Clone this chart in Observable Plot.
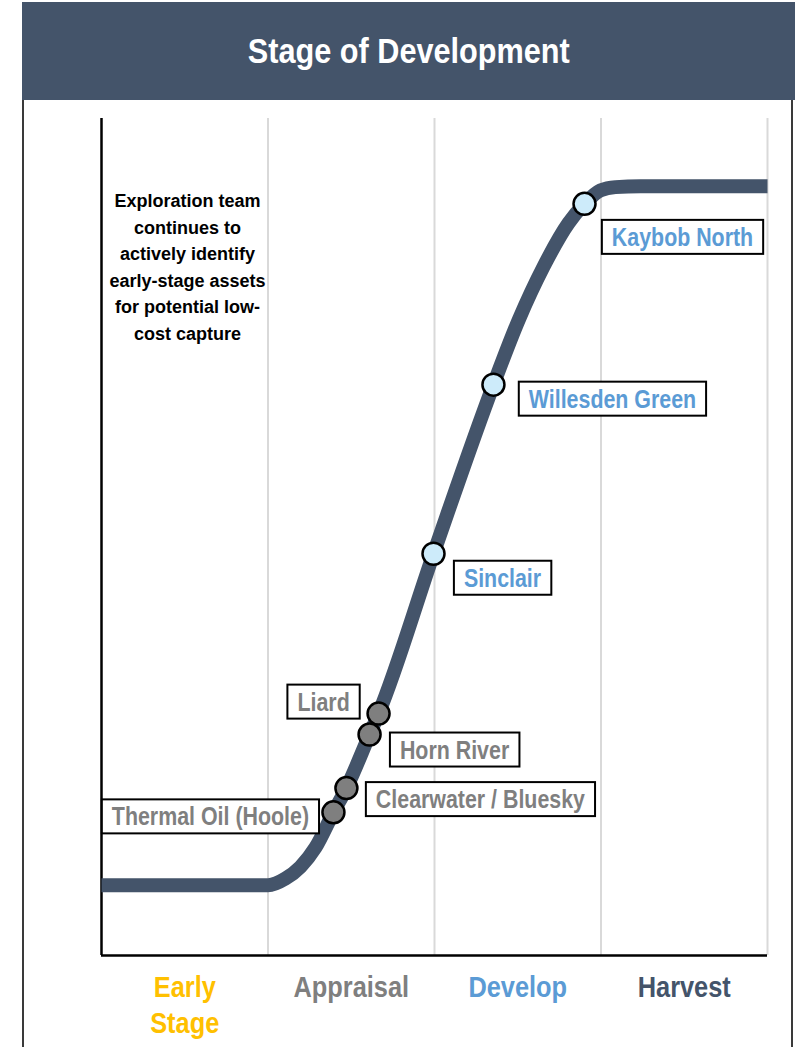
<!DOCTYPE html>
<html>
<head>
<meta charset="utf-8">
<script src="https://cdn.jsdelivr.net/npm/d3@7"></script>
<script src="https://cdn.jsdelivr.net/npm/@observablehq/plot@0.6"></script>
<style>
  html, body { margin: 0; padding: 0; background: #fff; }
  #page { position: relative; width: 795px; height: 1047px; overflow: hidden; font-family: "Liberation Sans", Arial, sans-serif; }
  #bar { position: absolute; left: 22px; top: 2px; width: 773px; height: 98px; background: #44546A; text-align: center; line-height: 98px; }
  #bar span { display: inline-block; color: #fff; font-weight: bold; font-size: 35px; transform: scaleX(0.876); }
  #frame { position: absolute; left: 22px; top: 100px; width: 767px; height: 947px; border-left: 2px solid #3a3a3a; border-right: 2px solid #3a3a3a; }
  #chart { position: absolute; left: 0; top: 100px; }
</style>
</head>
<body>
<div id="page">
  <div id="bar"><span>Stage of Development</span></div>
  <div id="frame"></div>
  <div id="chart"></div>
</div>
<script>
// ---- data ----
const stages = ["Early\nStage", "Appraisal", "Develop", "Harvest"];
const stageColors = ["#FFC000", "#7F7F7F", "#5B9BD5", "#44546A"];

const curveX = [0, 1.0, 1.105, 1.195, 1.285, 1.393, 1.471, 1.610, 1.664, 1.994, 2.354, 2.505, 2.655, 2.805, 2.901, 2.997, 3.087, 3.237, 4.0];
const curveY = [8.4, 8.4, 9.2, 10.6, 12.9, 17.1, 20.0, 26.4, 28.9, 48.0, 68.2, 75.9, 82.3, 87.5, 89.8, 91.4, 91.8, 91.9, 91.9];

const assetNames = ["Thermal Oil (Hoole)", "Clearwater / Bluesky", "Horn River", "Liard", "Sinclair", "Willesden Green", "Kaybob North"];
const assetX = [1.393, 1.471, 1.610, 1.664, 1.994, 2.354, 2.901];
const assetY = [17.1, 20.0, 26.4, 28.9, 48.0, 68.2, 89.8];
const assetStage = ["Appraisal", "Appraisal", "Appraisal", "Appraisal", "Develop", "Develop", "Develop"];

const noteText = "Exploration team\ncontinues to\nactively identify\nearly-stage assets\nfor potential low-\ncost capture";

// ---- layout / style ----
const labelOffsets = [[-123, 5], [134, 12], [85, 16], [-55, -11], [69, 25], [119, 15], [98, 34]];
const labelColor = {Appraisal: "#7F7F7F", Develop: "#5B9BD5"};
const dotColor = {Appraisal: "#7F7F7F", Develop: "#CDEBFA"};

const curve = curveX.map((x, i) => ({x, y: curveY[i]}));
const assets = assetNames.map((name, i) => ({name, x: assetX[i], y: assetY[i], stage: assetStage[i]}));

const svg = Plot.plot({
  width: 795,
  height: 947,
  marginLeft: 101,
  marginRight: 28,
  marginTop: 18,
  marginBottom: 92,
  x: {domain: [0, 4], axis: null},
  y: {domain: [0, 100], axis: null},
  color: {type: "identity"},
  style: {fontFamily: "'Liberation Sans', Arial, sans-serif", background: "transparent", overflow: "visible"},
  marks: [
    Plot.ruleX([1, 2, 3, 4], {stroke: "#D9D9D9", strokeWidth: 2}),
    Plot.ruleX([0], {stroke: "#000", strokeWidth: 2.5}),
    Plot.ruleY([0], {stroke: "#000", strokeWidth: 2.5}),
    Plot.line(curve, {x: "x", y: "y", curve: "monotone-x", stroke: "#44546A", strokeWidth: 14, strokeLinecap: "butt", strokeLinejoin: "round"}),
    Plot.dot(assets, {x: "x", y: "y", r: 11, fill: d => dotColor[d.stage], stroke: "#000", strokeWidth: 2.5}),
    ...assets.map((a, i) => Plot.text([a], {
      x: "x", y: "y", text: "name",
      dx: labelOffsets[i][0], dy: labelOffsets[i][1],
      textAnchor: "middle", lineAnchor: "middle",
      fontSize: 25, fontWeight: "bold",
      fill: labelColor[a.stage]
    })),
    Plot.text([noteText], {
      text: d => d, frameAnchor: "top-left", dx: 86, dy: 146.5,
      textAnchor: "middle", lineAnchor: "middle", lineHeight: 1.47,
      fontSize: 18, fontWeight: "bold", fill: "#000"
    }),
    Plot.text(stages, {
      x: (d, i) => i + 0.5, text: d => d, frameAnchor: "bottom",
      dy: 16, textAnchor: "middle", lineAnchor: "top", lineHeight: 1.24,
      fontSize: 29, fontWeight: "bold",
      fill: (d, i) => stageColors[i]
    })
  ]
});

document.getElementById("chart").append(svg);

const assetSet = new Set(assetNames);
const stageSet = new Set(stages.map(s => s.replace(/\n/g, "")));
const allTexts = Array.from(svg.querySelectorAll("text"));
const assetTexts = allTexts.filter(t => assetSet.has(t.textContent));
const stageTexts = allTexts.filter(t => stageSet.has(t.textContent));

function squeeze(texts, k) {
  for (const t of texts) {
    const tspans = t.querySelectorAll("tspan");
    const els = tspans.length ? Array.from(tspans) : [t];
    for (const el of els) {
      const w = el.getComputedTextLength();
      el.setAttribute("textLength", (w * k).toFixed(1));
      el.setAttribute("lengthAdjust", "spacingAndGlyphs");
    }
  }
}

squeeze(assetTexts, 0.855);
squeeze(stageTexts, 0.875);

for (const t of assetTexts) {
  const b = t.getBBox();
  const cy = b.y + b.height / 2;
  d3.select(t.parentNode).insert("rect", () => t)
    .attr("x", b.x - 10).attr("y", cy - 17)
    .attr("width", b.width + 20).attr("height", 34)
    .attr("transform", t.getAttribute("transform"))
    .attr("fill", "#fff").attr("stroke", "#000").attr("stroke-width", 2);
}
</script>
</body>
</html>
